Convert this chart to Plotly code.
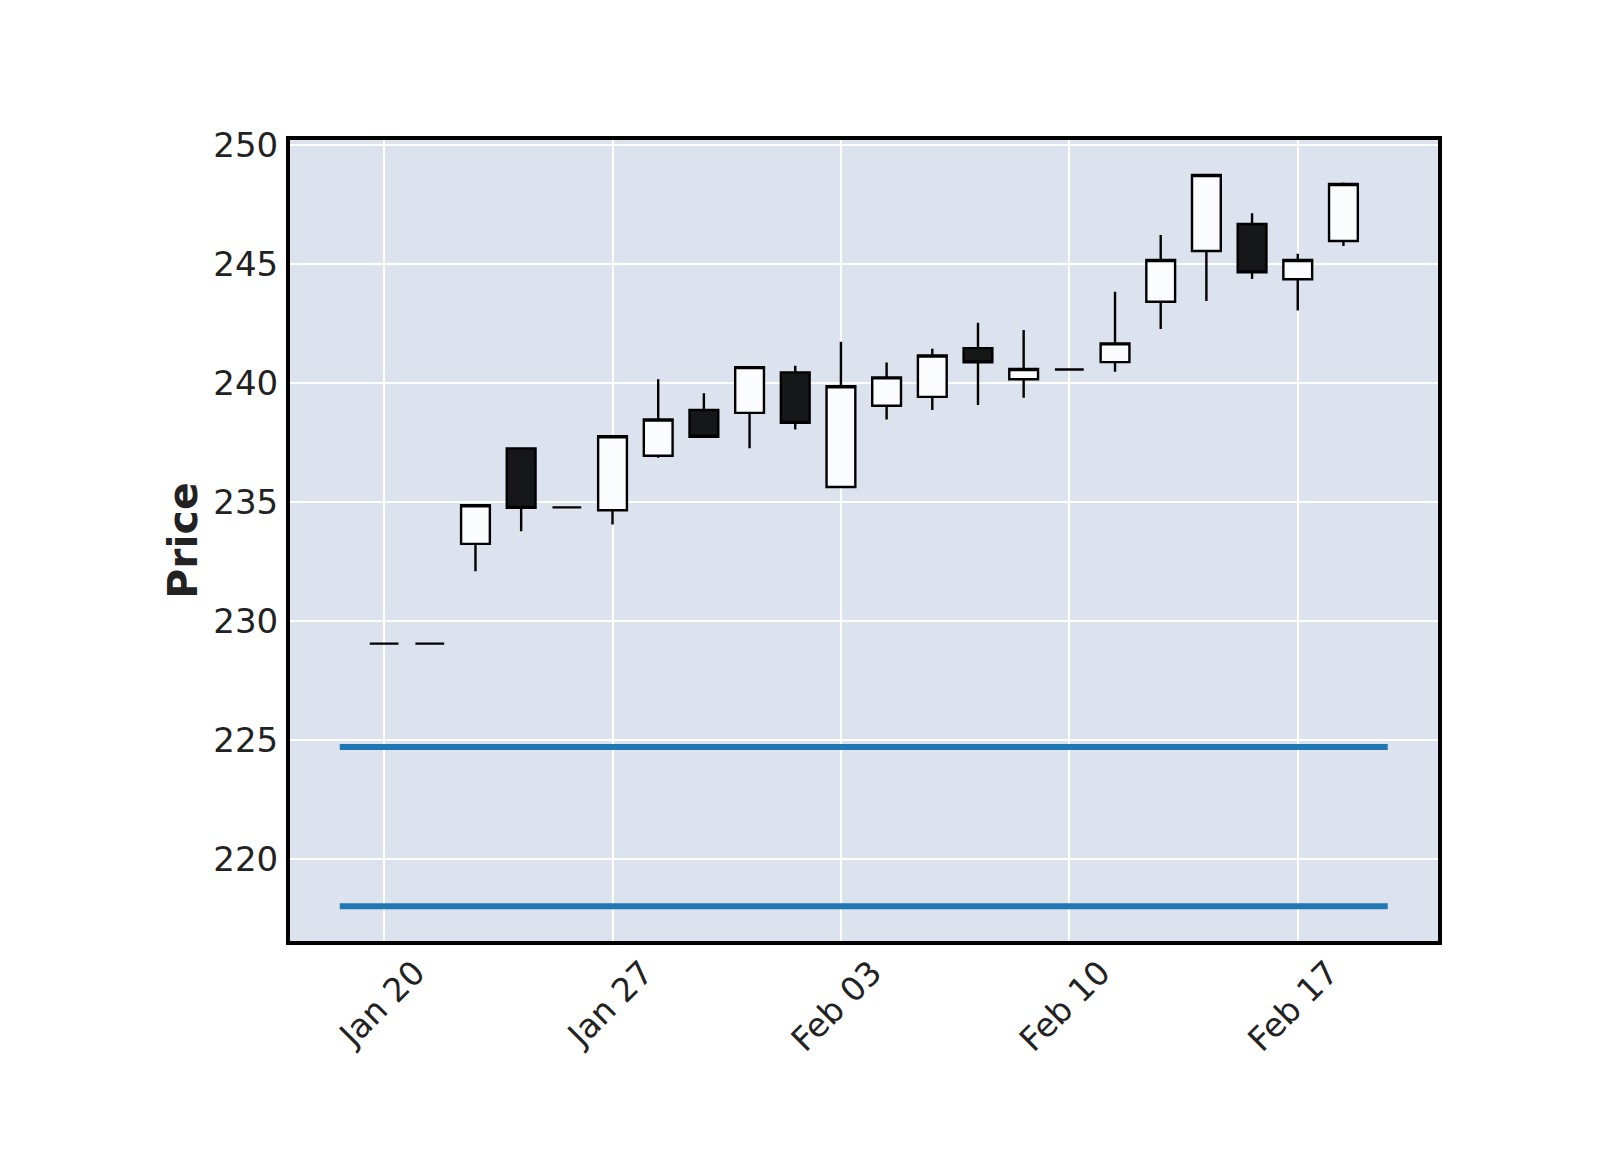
import plotly.graph_objects as go
import pandas as pd

# ---- data ----
dates = ["2025-01-20", "2025-01-21", "2025-01-22", "2025-01-23", "2025-01-24",
         "2025-01-27", "2025-01-28", "2025-01-29", "2025-01-30", "2025-01-31",
         "2025-02-03", "2025-02-04", "2025-02-05", "2025-02-06", "2025-02-07",
         "2025-02-10", "2025-02-11", "2025-02-12", "2025-02-13", "2025-02-14",
         "2025-02-17", "2025-02-18"]
opens  = [229.06, 229.06, 233.25, 237.26, 234.78, 234.66, 236.95, 238.87, 238.75, 240.45,
          235.64, 239.05, 239.42, 241.47, 240.16, 240.57, 240.88, 243.42, 245.55, 246.68,
          244.36, 245.97]
highs  = [229.06, 229.06, 234.87, 237.26, 234.78, 237.77, 240.16, 239.57, 240.67, 240.73,
          241.74, 240.87, 241.44, 242.53, 242.23, 240.57, 243.84, 246.22, 248.74, 247.13,
          245.43, 248.42]
lows   = [229.06, 229.06, 232.10, 233.78, 234.78, 234.06, 236.87, 237.75, 237.26, 238.05,
          235.60, 238.47, 238.87, 239.08, 239.38, 240.57, 240.48, 242.27, 243.45, 244.37,
          243.05, 245.76]
closes = [229.06, 229.06, 234.87, 234.76, 234.78, 237.77, 238.47, 237.75, 240.67, 238.33,
          239.87, 240.24, 241.16, 240.87, 240.59, 240.57, 241.67, 245.17, 248.74, 244.65,
          245.17, 248.36]
hline_levels = [224.72, 218.03]
y_ticks = [220, 225, 230, 235, 240, 245, 250]
tick_every = 5

# ---- derived ----
idx = list(range(len(dates)))
tick_idx = idx[::tick_every]
tick_text = [pd.Timestamp(dates[i]).strftime("%b %d") for i in tick_idx]

FONT = "DejaVu Sans"
TXT = "#222222"

fig = go.Figure()
fig.add_trace(go.Candlestick(
    x=idx, open=opens, high=highs, low=lows, close=closes,
    increasing=dict(line=dict(color="black", width=2.4), fillcolor="#fbfcfd"),
    decreasing=dict(line=dict(color="black", width=2.4), fillcolor="#161718"),
    whiskerwidth=0, showlegend=False, hoverinfo="skip",
))
for lvl in hline_levels:
    fig.add_trace(go.Scatter(
        x=[idx[0] - 0.97, idx[-1] + 0.97], y=[lvl, lvl], mode="lines",
        line=dict(color="#1f77b4", width=6), showlegend=False, hoverinfo="skip",
    ))

fig.update_layout(
    width=1600, height=1150,
    margin=dict(l=282, r=170, t=132, b=217),
    paper_bgcolor="white", plot_bgcolor="#dce3ef",
    font=dict(family=FONT, size=34, color=TXT),
    boxgap=0.37, boxgroupgap=0,
    showlegend=False,
)
fig.update_xaxes(
    range=[-2.06, 23.07], rangeslider=dict(visible=False),
    tickmode="array", tickvals=tick_idx, ticktext=tick_text, tickangle=-45,
    ticklabelshift=31, ticklabelstandoff=-5,
    showgrid=True, gridcolor="white", gridwidth=2.2, zeroline=False,
    showline=True, linecolor="black", linewidth=4, mirror=True, ticks="",
    tickfont=dict(family=FONT, size=33, color=TXT),
)
fig.update_yaxes(
    range=[216.57, 250.21],
    tickmode="array", tickvals=y_ticks,
    showgrid=True, gridcolor="white", gridwidth=2.2, zeroline=False,
    showline=True, linecolor="black", linewidth=4, mirror=True, ticks="",
    ticklabelstandoff=1,
    tickfont=dict(family=FONT, size=34, color=TXT),
    title=dict(text="<b>Price</b>", font=dict(family=FONT, size=41, color=TXT), standoff=4),
)

fig.write_html("out.html")
